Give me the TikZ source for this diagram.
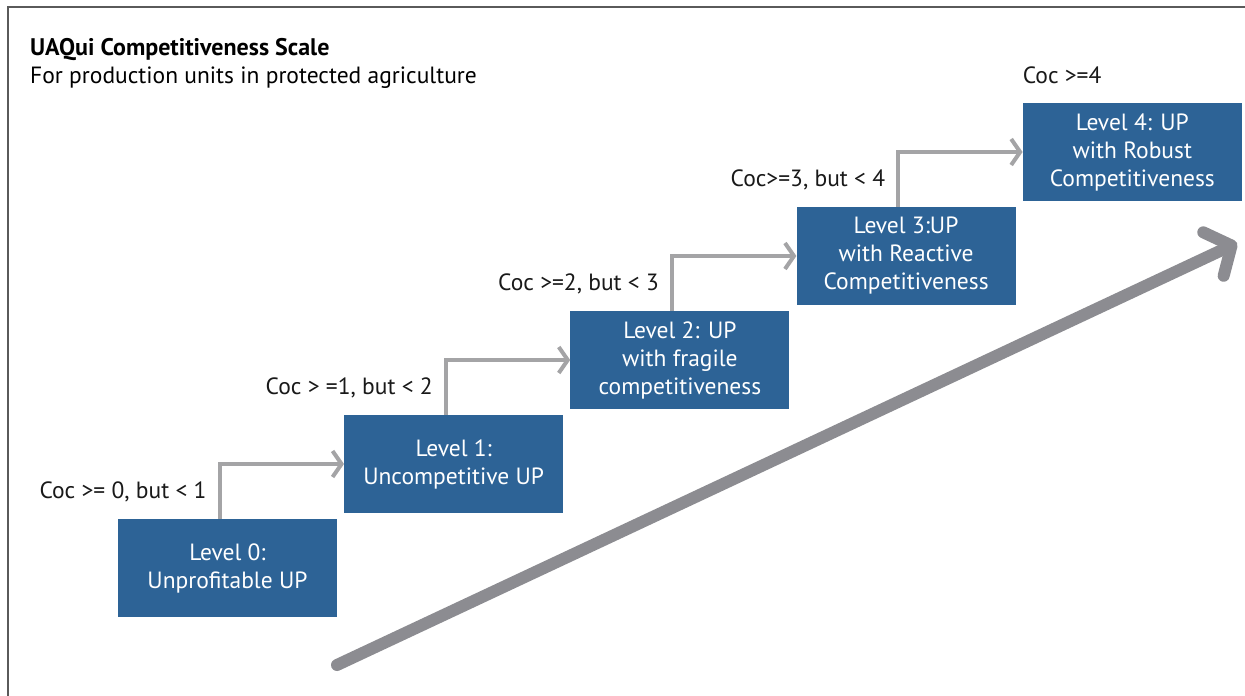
\documentclass[tikz,border=0pt]{standalone}
\usepackage{fontspec}
\setmainfont{PT Sans}
\usetikzlibrary{arrows.meta,positioning}
\definecolor{levelblue}{HTML}{2D6396}
\definecolor{stepgray}{HTML}{A4A4A6}
\definecolor{trendgray}{HTML}{8C8C91}
\definecolor{framegray}{HTML}{5A5A5A}
\tikzset{
  level/.style={fill=levelblue, text=white, minimum width=219pt, minimum height=98pt,
    align=center, inner sep=0pt, font=\fontsize{23.5}{28}\selectfont},
  rise/.style={draw=stepgray, line width=4pt,
    -{Straight Barb[length=9pt,width=26pt]}},
  cond/.style={inner sep=0pt, text=black!90, font=\fontsize{23.5}{28}\selectfont},
  trend/.style={draw=trendgray, line width=12pt, line cap=round,
    -{Straight Barb[length=20pt,width=48pt,round]}},
}
\begin{document}
\begin{tikzpicture}[x=1pt,y=-1pt]
  \useasboundingbox (0,0) rectangle (1245,696);
  % frame, cut on the right and at the bottom
  \draw[framegray, line width=2pt] (7.5,696) -- (7.5,6.5) -- (1245,6.5);
  \node[anchor=base west, inner sep=0pt, font=\fontsize{24}{28}\selectfont\bfseries] (title) at (30,55) {UAQui Competitiveness Scale};
  \node[anchor=base west, inner sep=0pt, font=\fontsize{23.5}{28}\selectfont] (subtitle) at ([yshift=-28pt]title.base west) {For production units in protected agriculture};
  % the five levels
  \foreach \i/\txt in {0/{Level 0:\\Unprofitable UP},1/{Level 1:\\Uncompetitive UP},
      2/{Level 2: UP\\with fragile\\competitiveness},3/{Level 3:UP\\with Reactive\\Competitiveness},
      4/{Level 4: UP\\with Robust\\Competitiveness}}{
    \node[level] (l\i) at (227.5+226.2*\i,568-104*\i) {\txt};
  }
  % steps between levels
  \foreach \i/\lbl in {0/{Coc >= 0, but < 1},1/{Coc > =1, but < 2},2/{Coc >=2, but < 3},3/{Coc>=3, but < 4}}{
    \pgfmathtruncatemacro{\j}{\i+1}
    \draw[rise] ([xshift=-8pt]l\i.north) |- node[pos=0.25,left=11pt,cond] (c\i) {\lbl} (l\j.west);
  }
  \node[cond, anchor=base west] (c4) at ([yshift=19pt]l4.north west) {Coc >=4};
  % overall trend
  \coordinate (tail) at (337,665);
  \coordinate (tip) at (1237,243);
  \draw[trend] (tail) -- (tip);
\end{tikzpicture}
\end{document}
